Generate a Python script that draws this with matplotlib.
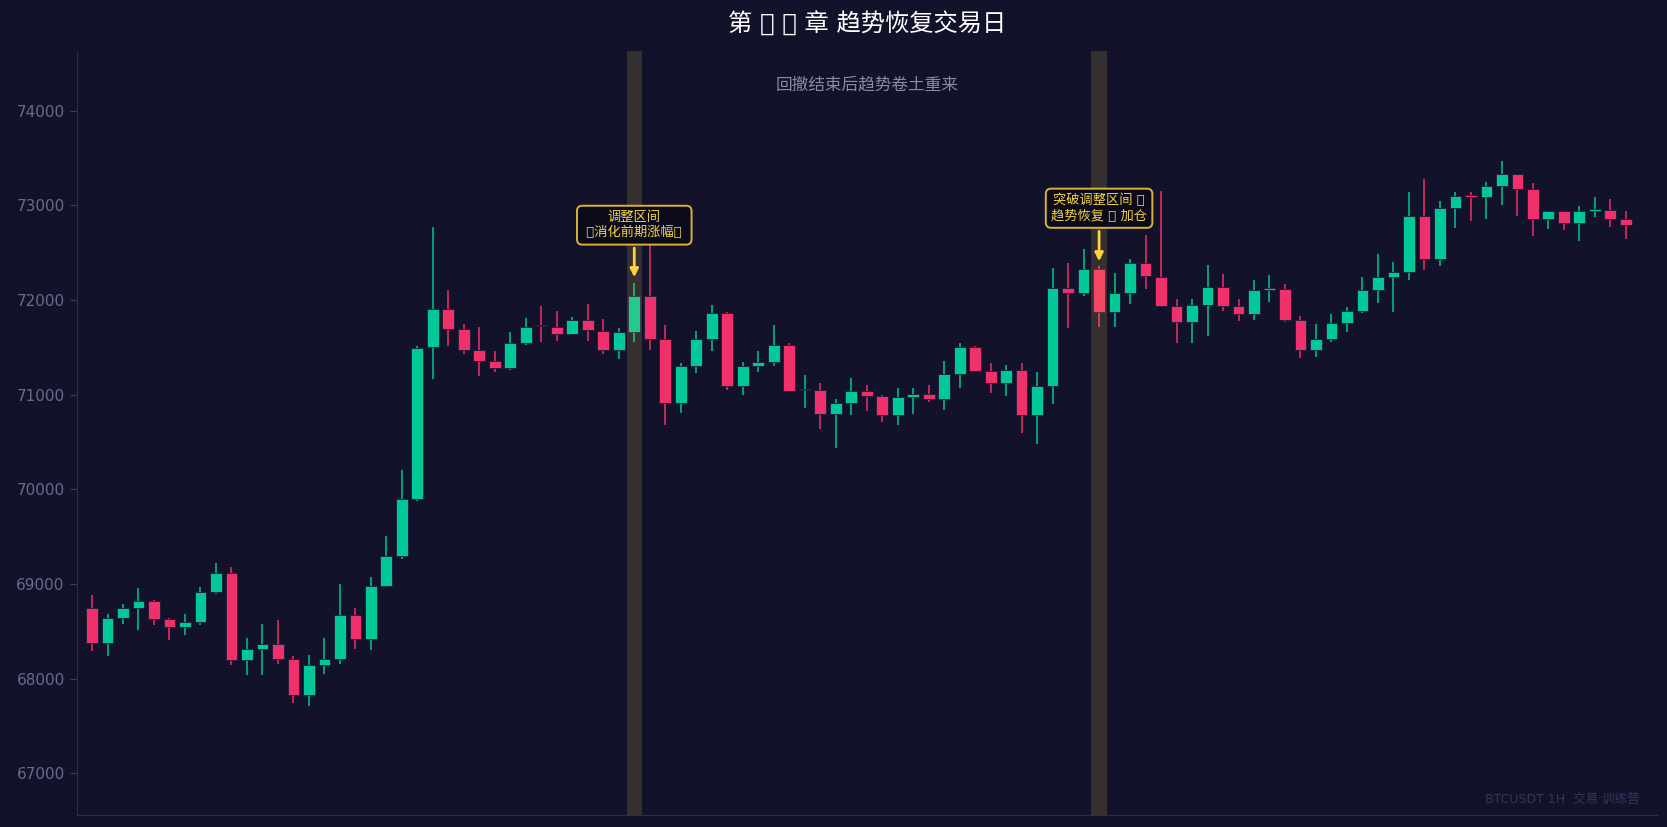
import numpy as np
import matplotlib
matplotlib.use("Agg")
import matplotlib.pyplot as plt

plt.rcParams['font.family'] = ['DejaVu Sans', 'Noto Sans CJK SC']

# 1H 蜡烛数据 (开, 高, 低, 收)
opens = [68747, 68372, 68642, 68747, 68821, 68631, 68547, 68600, 68916, 69116,
         68200, 68316, 68368, 68210, 67831, 68147, 68210, 68674, 68421, 68979,
         69295, 69895, 71499, 71907, 71696, 71467, 71351, 71277, 71548, 71725,
         71717, 71636, 71790, 71674, 71467, 71664, 72044, 71583, 70908, 71298,
         71583, 71864, 71087, 71298, 71348, 71527, 71045, 71050, 70792, 70915,
         71041, 70982, 70781, 70979, 71010, 70957, 71221, 71506, 71253, 71126,
         71263, 70781, 71094, 72128, 72068, 72329, 71868, 72076, 72392, 72244,
         71931, 71770, 71949, 72139, 71938, 71854, 72107, 72113, 71790, 71474,
         71590, 71759, 71885, 72107, 72244, 72297, 72888, 72434, 72972, 73095,
         73088, 73204, 73331, 73173, 72856, 72940, 72814, 72940, 72950, 72856]
highs = [68884, 68684, 68789, 68958, 68832, 68642, 68684, 68968, 69221, 69179,
         68432, 68579, 68621, 68242, 68252, 68432, 69000, 68747, 69074, 69505,
         70200, 71510, 72766, 72107, 71748, 71717, 71464, 71664, 71812, 71938,
         71886, 71822, 71959, 71801, 71706, 72181, 72650, 71738, 71337, 71675,
         71949, 71870, 71348, 71464, 71738, 71548, 71210, 71126, 70957, 71179,
         71105, 71000, 71073, 71073, 71105, 71358, 71548, 71517, 71337, 71316,
         71337, 71242, 72339, 72392, 72540, 72360, 72287, 72434, 72687, 73150,
         72012, 72012, 72371, 72276, 72012, 72212, 72265, 72170, 71833, 71748,
         71854, 71928, 72244, 72487, 72402, 73141, 73278, 73046, 73141, 73141,
         73246, 73468, 73331, 73236, 72940, 72940, 72993, 73088, 73067, 72940]
lows = [68287, 68235, 68579, 68509, 68568, 68403, 68463, 68568, 68898, 68147,
        68035, 68035, 68158, 67740, 67706, 68045, 68158, 68316, 68305, 68968,
        69263, 69880, 71163, 71509, 71425, 71193, 71235, 71256, 71520, 71552,
        71562, 71625, 71562, 71425, 71372, 71552, 71467, 70676, 70802, 71225,
        71456, 71045, 70992, 71235, 71298, 71034, 70855, 70634, 70437, 70781,
        70823, 70707, 70676, 70792, 70918, 70834, 71066, 71242, 71013, 70982,
        70591, 70475, 70897, 71699, 72037, 71710, 71710, 71952, 72111, 71921,
        71548, 71548, 71622, 71885, 71780, 71790, 71980, 71769, 71389, 71400,
        71558, 71664, 71864, 71970, 71875, 72212, 72318, 72360, 72761, 72835,
        72856, 73004, 72888, 72677, 72750, 72740, 72624, 72877, 72772, 72645]
closes = [68372, 68642, 68747, 68821, 68631, 68547, 68600, 68916, 69116, 68200,
          68316, 68368, 68210, 67831, 68147, 68210, 68674, 68421, 68979, 69295,
          69895, 71488, 71902, 71696, 71467, 71351, 71277, 71548, 71717, 71720,
          71636, 71790, 71678, 71467, 71664, 72044, 71583, 70908, 71298, 71583,
          71864, 71087, 71298, 71348, 71527, 71041, 71050, 70792, 70915, 71041,
          70982, 70781, 70979, 71010, 70957, 71221, 71506, 71253, 71126, 71263,
          70781, 71094, 72128, 72068, 72329, 71868, 72076, 72392, 72248, 71931,
          71770, 71949, 72139, 71938, 71854, 72107, 72113, 71790, 71474, 71590,
          71759, 71885, 72107, 72244, 72297, 72888, 72434, 72972, 73099, 73088,
          73204, 73331, 73173, 72856, 72940, 72814, 72940, 72948, 72856, 72793]

highlight_idx = [35, 65]
note_texts = ["调整区间\n \U0001F4C9消化前期涨幅\U0001F4C9 ",
              "突破调整区间 \U0001F680\n趋势恢复 \U0001F449 加仓"]
note_tips = [72239, 72408]
note_boxes = [72789, 72968]
y_ticks = [67000, 68000, 69000, 70000, 71000, 72000, 73000, 74000]

BG = '#12122b'
UP = '#00c896'
DOWN = '#f0306a'
GOLD = '#ffd23f'

fig = plt.figure(figsize=(16.67, 8.27), dpi=100, facecolor=BG)
ax = fig.add_axes([0.0459, 0.0145, 0.948, 0.924])
ax.set_facecolor(BG)

o = np.array(opens); h = np.array(highs); l = np.array(lows); c = np.array(closes)
x = np.arange(len(o))
up = c >= o
colors = np.where(up, UP, DOWN)

# 影线
ax.vlines(x, l, h, colors=colors, lw=1.1, zorder=2)
# 实体
bottom = np.minimum(o, c)
height = np.maximum(np.abs(c - o), 18)
ax.bar(x, height, bottom=bottom, width=0.76, color=colors,
       edgecolor='#1c1c3a', linewidth=0.6, zorder=3)

# 高亮区域
for i in highlight_idx:
    ax.axvspan(i - 0.5, i + 0.5, color='#ffd54f', alpha=0.15, lw=0, zorder=4)

# 标注
for i, txt, tip, ty in zip(highlight_idx, note_texts, note_tips, note_boxes):
    ax.annotate(txt, xy=(i, tip), xytext=(i, ty), ha='center', va='center',
                fontsize=9.5, color='#f5d442',
                bbox=dict(boxstyle='round,pad=0.4', fc='#0b0b1c', ec='#d8b436', lw=1.4),
                arrowprops=dict(arrowstyle='-|>', color=GOLD, lw=2, mutation_scale=12,
                                shrinkA=2, shrinkB=0),
                zorder=6)

ax.text(0.5, 0.9565, '回撤结束后趋势卷土重来', transform=ax.transAxes,
        ha='center', va='center', fontsize=12, color='#8a8aa8')
ax.text(0.989, 0.02, 'BTCUSDT 1H  交易·训练营', transform=ax.transAxes,
        ha='right', va='center', fontsize=9, color='#36365a')

ax.set_title('第 \U0001F51F \U0001F4C8 章 趋势恢复交易日', color='white', fontsize=17.5, pad=14)

ax.set_xlim(-1, 101)
ax.set_ylim(66560, 74630)
ax.set_yticks(y_ticks)
ax.set_xticks([])
ax.tick_params(axis='y', colors='#3a3a5e', labelcolor='#6a6a8c', labelsize=11, length=5)
for s in ['top', 'right']:
    ax.spines[s].set_visible(False)
for s in ['left', 'bottom']:
    ax.spines[s].set_color('#2c2c4c')

fig.savefig('out.png', facecolor=BG)
